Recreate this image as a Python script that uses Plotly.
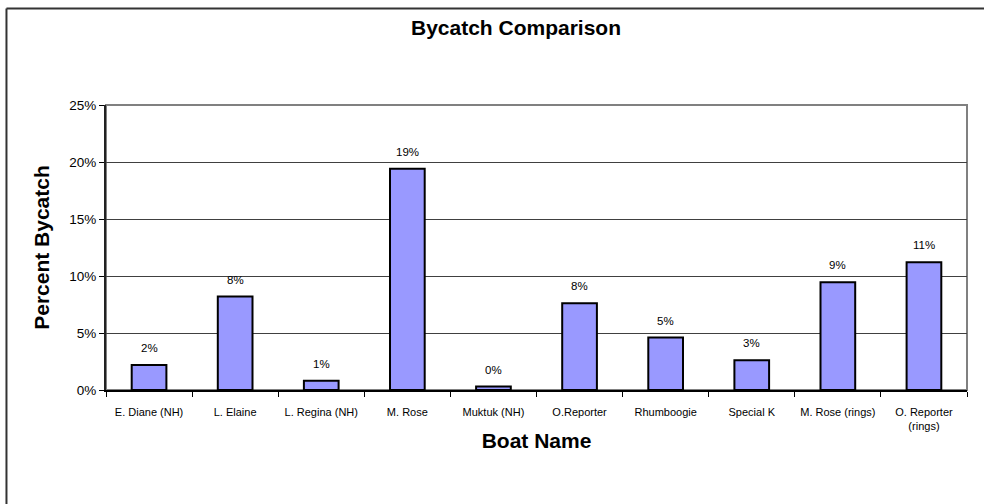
import plotly.graph_objects as go

boats = ["E. Diane (NH)", "L. Elaine", "L. Regina (NH)", "M. Rose", "Muktuk (NH)",
         "O.Reporter", "Rhumboogie", "Special K", "M. Rose (rings)", "O. Reporter<br>(rings)"]
bycatch = [0.022, 0.082, 0.0082, 0.194, 0.003, 0.076, 0.046, 0.026, 0.0945, 0.112]
labels = [f"{round(v * 100):.0f}%" for v in bycatch]

FONT = "Liberation Sans, Arial, sans-serif"

fig = go.Figure()
fig.add_trace(go.Bar(
    x=boats, y=bycatch, width=0.403,
    marker=dict(color="#9999FF", line=dict(color="#000000", width=2)),
    hoverinfo="x+y", showlegend=False,
))

for b, v, t in zip(boats, bycatch, labels):
    fig.add_annotation(x=b, y=v, text=t, showarrow=False, yshift=17,
                       font=dict(family=FONT, size=11.5, color="#000000"))

# plot area frame (top/right grey)
fig.add_shape(type="rect", xref="paper", yref="paper", x0=0, x1=1, y0=0, y1=1,
              line=dict(color="#808080", width=2), layer="below")
# outer chart border (left and top visible)
fig.add_shape(type="line", xref="paper", yref="paper", x0=-0.1156, x1=1.03, y0=1.3386, y1=1.3386,
              line=dict(color="#333333", width=2))
fig.add_shape(type="line", xref="paper", yref="paper", x0=-0.1156, x1=-0.1156, y0=1.3386, y1=-0.45,
              line=dict(color="#333333", width=2))

fig.update_layout(
    width=984, height=504,
    margin=dict(l=106, r=17, t=105, b=114),
    paper_bgcolor="white", plot_bgcolor="white",
    font=dict(family=FONT, color="#000000"),
    title=dict(text="<b>Bycatch Comparison</b>", x=516 / 984, xanchor="center",
               y=1 - 28 / 504, yanchor="middle", font=dict(family=FONT, size=21, color="#000000")),
    bargap=0.6,
)
fig.update_xaxes(
    showline=True, linecolor="#000000", linewidth=1.5,
    ticks="outside", ticklen=5, tickcolor="#000000", tickson="boundaries",
    tickfont=dict(family=FONT, size=11, color="#000000"), tickangle=0,
    ticklabelstandoff=11,
    title=dict(text="<b>Boat Name</b>", font=dict(family=FONT, size=21, color="#000000"), standoff=2),
    showgrid=False, range=[-0.5, 9.5], fixedrange=True,
)
fig.update_yaxes(
    range=[0, 0.25], dtick=0.05, tickformat=".0%",
    showline=True, linecolor="#222222", linewidth=2,
    ticks="outside", ticklen=5, tickcolor="#000000",
    tickfont=dict(family=FONT, size=13.5, color="#000000"),
    showgrid=True, gridcolor="#404040", gridwidth=1, zeroline=False,
    title=dict(text="<b>Percent Bycatch</b>", font=dict(family=FONT, size=21, color="#000000"), standoff=14),
    fixedrange=True,
)

fig.write_html("out.html", config={"displayModeBar": False},
               post_script="document.body.style.margin='0';")
